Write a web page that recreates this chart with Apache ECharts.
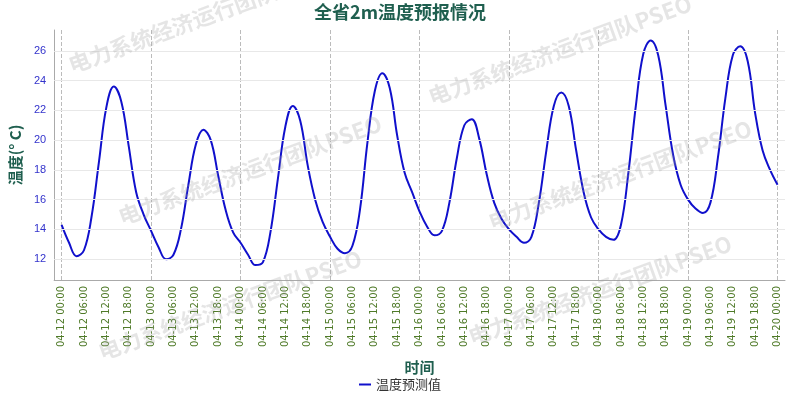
<!DOCTYPE html>
<html><head><meta charset="utf-8">
<script src="https://cdn.jsdelivr.net/npm/echarts@6/dist/echarts.min.js"></script>
<style>html,body{margin:0;padding:0;background:#fff}#c{width:800px;height:400px}</style>
</head><body><div id="c"></div>
<script>
const days = ['04-12','04-13','04-14','04-15','04-16','04-17','04-18','04-19'];
const hours = ['00:00','02:00','04:00','06:00','08:00','10:00','12:00','14:00','16:00','18:00','20:00','22:00'];
const temps = [
 14.3,13.1,12.2,12.6,14.8,18.5,22.2,23.6,22.6,19.6,16.5,15.0,
 13.9,12.8,12.0,12.3,14.0,17.0,19.7,20.7,20.0,17.6,15.3,13.8,
 13.1,12.3,11.6,11.8,13.8,17.4,20.9,22.3,21.3,18.3,16.0,14.5,
 13.5,12.7,12.4,12.9,15.3,19.8,23.3,24.5,23.5,20.3,17.8,16.5,
 15.2,14.2,13.6,13.9,15.8,18.8,21.0,21.4,20.1,17.7,15.8,14.7,
 14.0,13.5,13.1,13.5,15.8,19.3,22.3,23.2,22.3,19.3,16.5,14.8,
 14.0,13.5,13.3,14.3,17.8,22.3,25.8,26.7,25.7,22.3,19.0,17.0,
 16.0,15.4,15.1,15.8,18.8,22.8,25.7,26.3,25.3,21.8,19.3,18.0,
 17.0];
const yTicks = [12,14,16,18,20,22,24,26];
const cats = [];
days.forEach(d => hours.forEach(h => cats.push(d + ' ' + h)));
cats.push('04-20 00:00');
const chart = echarts.init(document.getElementById('c'));
const wm = [];
[[200,18],[560,50],[250,170],[620,175],[230,305],[600,290]].forEach(p => wm.push({
  type:'text', x:p[0], y:p[1], rotation:Math.PI/9, z:100, silent:true,
  style:{text:'电力系统经济运行团队PSEO', fill:'rgba(160,160,160,0.28)', font:'bold 22px "Noto Sans CJK SC"', align:'center', verticalAlign:'middle'}
}));
chart.setOption({
  animation:false,
  title:{text:'全省2m温度预报情况', left:'center', top:-2, textStyle:{color:'#1f5f4f', fontSize:18, fontWeight:'bold', fontFamily:'Noto Sans CJK SC'}},
  grid:{left:45, right:15, top:30, bottom:120},
  legend:{bottom:4, data:['温度预测值'], icon:'rect', itemWidth:12, itemHeight:2, textStyle:{fontSize:13, color:'#333', fontFamily:'Noto Sans CJK SC'}},
  graphic: wm,
  xAxis:{type:'category', data:cats, boundaryGap:false,
    min:-1, max:97,
    name:'时间', nameLocation:'middle', nameGap:80, nameTextStyle:{color:'#1f5f4f', fontSize:15, fontWeight:'bold', fontFamily:'Noto Sans CJK SC'},
    axisLine:{lineStyle:{color:'#aaa'}}, axisTick:{show:false},
    axisLabel:{interval:2, rotate:90, color:'#4f7a28', fontSize:10, fontFamily:'DejaVu Sans', margin:6},
    splitLine:{show:true, interval:(i)=>i%12===0, lineStyle:{color:'#bbb', type:'dashed'}}
  },
  yAxis:{type:'value', min:10.6, max:27.4, interval:0.2,
    name:'温度(° C)', nameLocation:'middle', nameGap:26, nameTextStyle:{color:'#1f5f4f', fontSize:15, fontWeight:'bold', fontFamily:'Noto Sans CJK SC'},
    axisLine:{show:true, lineStyle:{color:'#aaa'}}, axisTick:{show:false},
    axisLabel:{color:'#3333cc', fontSize:11, showMinLabel:false, showMaxLabel:false,
      formatter:(v)=>{const r=Math.round(v);return (Math.abs(v-r)<1e-6 && yTicks.includes(r))?String(r):'';}},
    splitLine:{show:false}
  },
  series:[{name:'温度预测值', type:'line', data:temps, smooth:0.4, showSymbol:false,
    lineStyle:{color:'#1010cc', width:2}, itemStyle:{color:'#1010cc'},
    markLine:{silent:true, symbol:'none', label:{show:false}, animation:false,
      lineStyle:{color:'#e8e8e8', type:'solid', width:1},
      data: yTicks.map(v=>({yAxis:v}))}}]
});
</script></body></html>
